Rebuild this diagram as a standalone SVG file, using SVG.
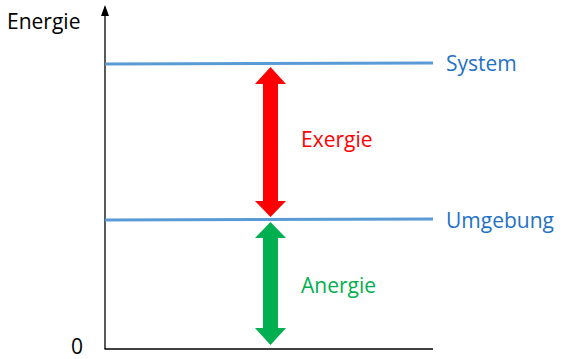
<svg xmlns="http://www.w3.org/2000/svg" width="562" height="359" viewBox="0 0 562 359">
<style>
text{font-family:"Open Sans","Liberation Sans",sans-serif;font-size:21px}
.lvl{stroke:#5B9BD5;stroke-width:3;fill:none}
.ax{stroke:#000;stroke-width:1.3;fill:none}
.blue{fill:#1F72C4}
</style>
<g id="axes">
<line class="ax" x1="105" y1="349" x2="105" y2="7"/>
<path d="M101,16 L105,5 L109,16 Z" fill="#000"/>
<line class="ax" x1="104.5" y1="349" x2="433" y2="349"/>
</g>
<g id="system">
<line class="lvl" x1="105" y1="64" x2="433" y2="63"/>
<text class="blue" x="446" y="71">System</text>
</g>
<g id="umgebung">
<line class="lvl" x1="105" y1="220" x2="433" y2="219"/>
<text class="blue" x="446" y="228">Umgebung</text>
</g>
<g id="connectors">
<path id="exergie-arrow" d="M270.5,67 L286,84 L278,84 L278,201 L286,201 L270.5,217 L255,201 L263,201 L263,84 L255,84 Z" fill="#FF0000"/>
<path id="anergie-arrow" d="M270.5,222 L286,238 L278,238 L278,328 L286,328 L270.5,345 L255,328 L263,328 L263,238 L255,238 Z" fill="#00B050"/>
</g>
<g id="labels">
<text x="7" y="29" fill="#000">Energie</text>
<text x="301" y="147" fill="#FF0000">Exergie</text>
<text x="301" y="293" fill="#00B050">Anergie</text>
<text x="71" y="354" fill="#000">0</text>
</g>
</svg>
